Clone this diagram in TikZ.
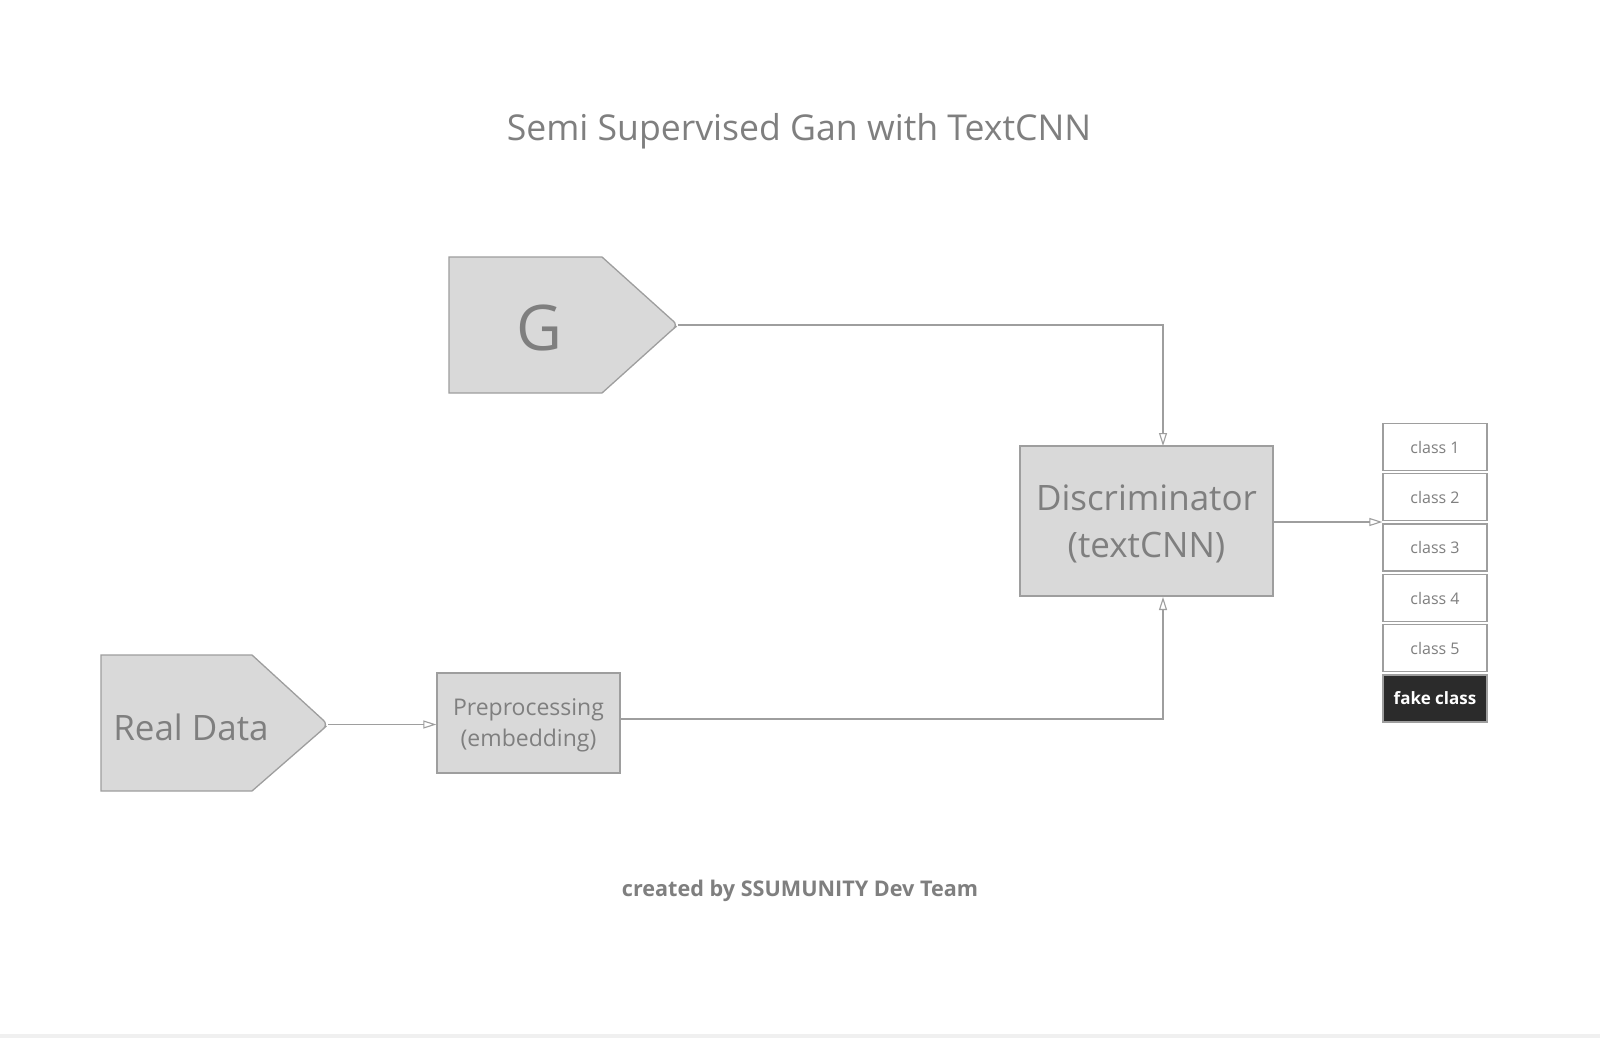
\documentclass[tikz,border=0pt]{standalone}
\usepackage{fontspec}
\setmainfont{Open Sans}
\usetikzlibrary{arrows.meta}
\definecolor{boxfill}{HTML}{D9D9D9}
\definecolor{edge}{HTML}{9E9E9E}
\definecolor{txt}{HTML}{7F7F7F}
\definecolor{dark}{HTML}{2B2B2B}
\definecolor{bottomline}{HTML}{F0F0F0}
\tikzset{
  shapeline/.style={draw=edge, line width=1.3pt, fill=boxfill},
  conn/.style={draw=edge, line width=1.3pt, -{Triangle[open,length=13pt,width=8pt,line width=1.1pt]}},
  classbox/.style={draw=edge, line width=1.3pt, fill=white, minimum width=104pt, minimum height=47pt, inner sep=0pt, text=txt, font=\fontsize{16}{19}\selectfont},
  fakebox/.style={classbox, fill=dark, text=white, font=\fontsize{17}{20}\selectfont\bfseries},
  lbl/.style={text=txt, align=center, inner sep=0pt}
}
\begin{document}
\begin{tikzpicture}[x=1pt,y=-1pt]
\useasboundingbox (0,0) rectangle (1600,1038);
\fill[white] (0,0) rectangle (1600,1038);
\fill[bottomline] (0,1034) rectangle (1600,1038);

% title
\node[lbl, font=\fontsize{35.6}{42}\selectfont] (title) at (799,131) {Semi Supervised Gan with TextCNN};

% G pentagon
\draw[shapeline] (449,257) -- (602,257) -- (672,320) [rounded corners=6pt] -- (678,325) -- (672,330) [rounded corners=0pt] -- (602,393) -- (449,393) -- cycle;
\coordinate (gtip) at (678,325);
\node[lbl, font=\fontsize{63}{70}\selectfont] (G) at (539,328) {G};

% Real Data pentagon
\draw[shapeline] (101,655) -- (252,655) -- (322,719) [rounded corners=6pt] -- (328,724.5) -- (322,730) [rounded corners=0pt] -- (252,791) -- (101,791) -- cycle;
\coordinate (rtip) at (328,724.5);
\node[lbl, font=\fontsize{35}{42}\selectfont] (real) at (191,727) {Real Data};

% Preprocessing
\node[shapeline, minimum width=183pt, minimum height=100pt, inner sep=0pt] (pre) at (528.5,723) {};
\node[lbl, font=\fontsize{23}{31}\selectfont] (pretext) at (528.5,725) {Preprocessing\\(embedding)};

% Discriminator
\node[shapeline, minimum width=253pt, minimum height=150pt, inner sep=0pt] (disc) at (1146.5,521) {};
\node[lbl, font=\fontsize{35}{47}\selectfont] (disctext) at (1146.5,524) {Discriminator\\(textCNN)};

% classes
\node[classbox] (c1) at (1435,447) {class 1};
\node[classbox] (c2) at (1435,497) {class 2};
\node[classbox] (c3) at (1435,547.5) {class 3};
\node[classbox] (c4) at (1435,598) {class 4};
\node[classbox] (c5) at (1435,648) {class 5};
\node[fakebox] (fake) at (1435,698.5) {fake class};

% connectors
\draw[conn] (gtip) -| (1163,446);
\draw[conn] (pre.east |- 0,719) -| (1163,597);
\draw[conn] (rtip) -- (pre.west |- rtip);
\draw[conn] (disc.east |- 0,522) -- (c2.west |- 0,522);

% footer
\node[lbl, font=\fontsize{21.6}{26}\selectfont\bfseries] (footer) at (800,891) {created by SSUMUNITY Dev Team};
\end{tikzpicture}
\end{document}
